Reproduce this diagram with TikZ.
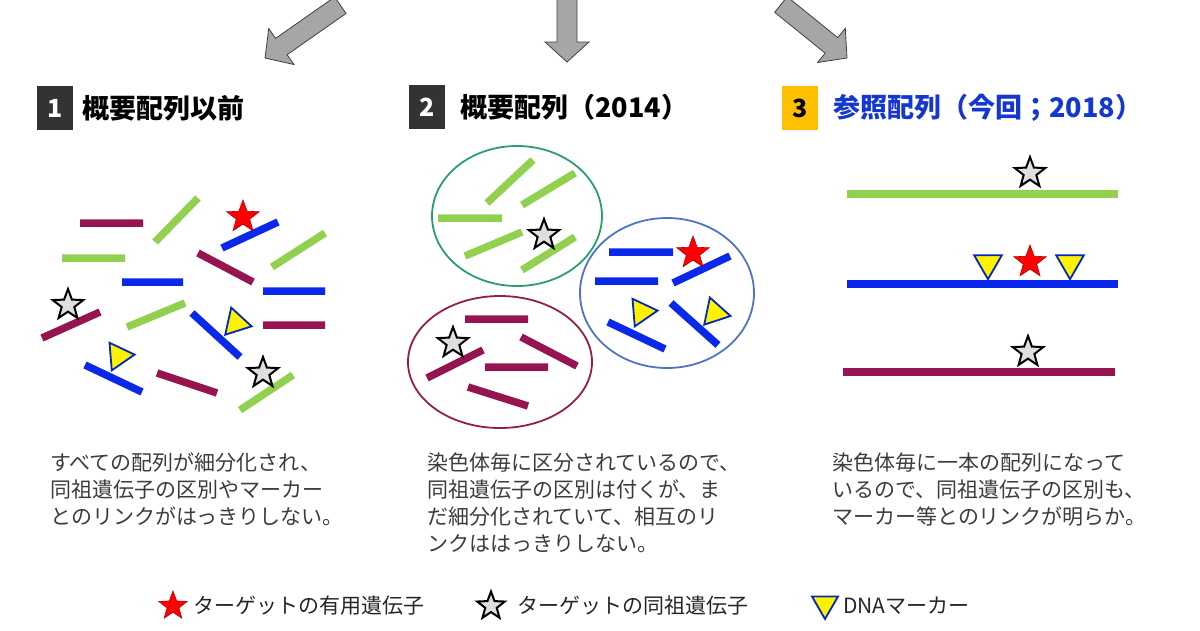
\documentclass[tikz,border=0pt]{standalone}
\usepackage{fontspec}
\usepackage{tikz}
\usetikzlibrary{shapes.geometric,positioning}
\newfontfamily\jp{Noto Sans CJK JP}
\definecolor{leaf}{RGB}{146,208,80}
\definecolor{royal}{RGB}{10,40,235}
\definecolor{wine}{RGB}{150,20,80}
\definecolor{titleblue}{RGB}{20,55,210}
\definecolor{gold}{RGB}{255,192,0}
\definecolor{bodygray}{RGB}{60,60,60}
\definecolor{ringgreen}{RGB}{40,160,110}
\definecolor{ringblue}{RGB}{80,115,195}
\definecolor{ringwine}{RGB}{150,30,70}
\definecolor{markblue}{RGB}{0,40,190}

\begin{document}
\begin{tikzpicture}[x=1pt,y=-1pt,font=\jp,
  fatarrow/.style={fill=gray!70,draw=black!75,line width=0.8pt},
  numbox/.style={minimum width=36pt,minimum height=44pt,inner sep=0pt,
    font=\jp\bfseries\fontsize{25}{25}\selectfont},
  heading/.style={anchor=west,inner sep=0pt,font=\jp\bfseries\fontsize{27}{27}\selectfont},
  body/.style={anchor=north west,align=left,inner sep=0pt,text=bodygray,
    font=\jp\fontsize{21}{27}\selectfont},
  gbar/.style={leaf,line width=7.5pt},
  bbar/.style={royal,line width=7.5pt},
  mbar/.style={wine,line width=7.5pt},
  ring/.style={ellipse,draw,line width=1.8pt,inner sep=0pt},
  target/.style={star,star points=5,star point ratio=2.4,fill=red,draw=red!70!black,
    line width=0.6pt,minimum size=34pt,inner sep=0pt},
  homolog/.style={star,star points=5,star point ratio=2.4,fill=gray!25,draw=black,
    line width=2pt,minimum size=32pt,inner sep=0pt},
  marker/.style={regular polygon,regular polygon sides=3,fill=yellow,draw=markblue,
    line width=1.8pt,minimum size=32pt,inner sep=0pt,anchor=corner 1},
  legend/.style={anchor=west,inner sep=0pt,text=black!85,font=\jp\fontsize{21}{21}\selectfont}]
  \useasboundingbox (0,0) rectangle (1200,630);

  % arrows from the top
  \begin{scope}[shift={(265,58)},rotate=215]
    \draw[fatarrow] (0,0) -- (-20,-22) -- (-20,-10) -- (-92,-10) -- (-92,10) -- (-20,10) -- (-20,22) -- cycle;
  \end{scope}
  \begin{scope}[shift={(567,62)},rotate=-90]
    \draw[fatarrow] (0,0) -- (-20,-22) -- (-20,-10) -- (-75,-10) -- (-75,10) -- (-20,10) -- (-20,22) -- cycle;
  \end{scope}
  \begin{scope}[shift={(847,58)},rotate=-39]
    \draw[fatarrow] (0,0) -- (-20,-22) -- (-20,-10) -- (-85,-10) -- (-85,10) -- (-20,10) -- (-20,22) -- cycle;
  \end{scope}

  % headings
  \node[numbox,fill=black!80,text=white] (n1) at (55,108) {1};
  \node[heading,right=9pt of n1] (h1) {概要配列以前};
  \node[numbox,fill=black!80,text=white] (n2) at (427,107) {2};
  \node[heading,right=15pt of n2] (h2) {概要配列（2014）};
  \node[numbox,fill=gold,text=black] (n3) at (800,108) {3};
  \node[heading,right=15pt of n3,text=titleblue] (h3) {参照配列（今回；2018）};

  % 1: scattered pieces
  \draw[gbar] (155,242) -- (198,198) (62,258) -- (125,258) (272,267) -- (325,233)
    (127,327) -- (185,303) (240,410) -- (293,375);
  \draw[mbar] (80,223) -- (143,223) (198,253) -- (253,282) (42,338) -- (100,312)
    (263,325) -- (325,325) (157,373) -- (217,393);
  \draw[bbar] (222,248) -- (278,222) (122,282) -- (183,282) (263,291) -- (325,291)
    (192,313) -- (240,357) (85,365) -- (142,392);
  \node[target] (s1) at (243,217) {};
  \node[homolog] (s2) at (68,305) {};
  \node[homolog] (s3) at (263,373) {};
  \node[marker,rotate=137.5] (m1) at (224,336) {};
  \node[marker,rotate=154.7] (m2) at (111,372) {};

  % 2: grouped by chromosome
  \node[ring,draw=ringgreen,minimum width=170pt,minimum height=140pt] (cg) at (517,216) {};
  \node[ring,draw=ringblue,minimum width=174pt,minimum height=150pt] (cb) at (667,293) {};
  \node[ring,draw=ringwine,minimum width=184pt,minimum height=132pt] (cm) at (500,362) {};
  \draw[gbar] (487,203) -- (533,160) (522,205) -- (575,173) (438,218) -- (502,218)
    (465,256) -- (522,232) (522,270) -- (575,237);
  \draw[bbar] (609,252) -- (673,252) (595,281) -- (658,281) (673,283) -- (730,256)
    (608,322) -- (665,349) (671,303) -- (718,345);
  \draw[mbar] (465,319) -- (528,319) (427,378) -- (483,350) (521,337) -- (577,366)
    (485,367) -- (548,367) (468,387) -- (528,406);
  \node[homolog] (s4) at (544,235) {};
  \node[target] (s5) at (693,253) {};
  \node[homolog] (s6) at (453,343) {};
  \node[marker,rotate=154.7] (m3) at (634,328) {};
  \node[marker,rotate=138.2] (m4) at (703,326) {};

  % 3: one sequence per chromosome
  \draw[gbar] (847,194) -- (1118,194);
  \draw[bbar] (847,284) -- (1118,284);
  \draw[mbar] (843,372) -- (1115,372);
  \node[homolog] (s7) at (1030,173) {};
  \node[target] (s8) at (1030,262) {};
  \node[homolog] (s9) at (1028,352) {};
  \node[marker,rotate=180] (m5) at (988,281) {};
  \node[marker,rotate=180] (m6) at (1070,281) {};

  % notes
  \node[body] (t1) at (50,453) {すべての配列が細分化され、\\同祖遺伝子の区別やマーカー\\とのリンクがはっきりしない。};
  \node[body] (t2) at (427,453) {染色体毎に区分されているので、\\同祖遺伝子の区別は付くが、ま\\だ細分化されていて、相互のリ\\ンクははっきりしない。};
  \node[body] (t3) at (832,453) {染色体毎に一本の配列になって\\いるので、同祖遺伝子の区別も、\\マーカー等とのリンクが明らか。};

  % legend
  \node[target,minimum size=30pt] (lt) at (173,606) {};
  \node[legend] (l1) at (193,606) {ターゲットの有用遺伝子};
  \node[homolog,minimum size=29pt] (lh) at (491,606) {};
  \node[legend] (l2) at (517,606) {ターゲットの同祖遺伝子};
  \node[marker,anchor=center,minimum size=30pt,rotate=180] (lm) at (825,604) {};
  \node[legend] (l3) at (843,606) {DNAマーカー};
\end{tikzpicture}
\end{document}
